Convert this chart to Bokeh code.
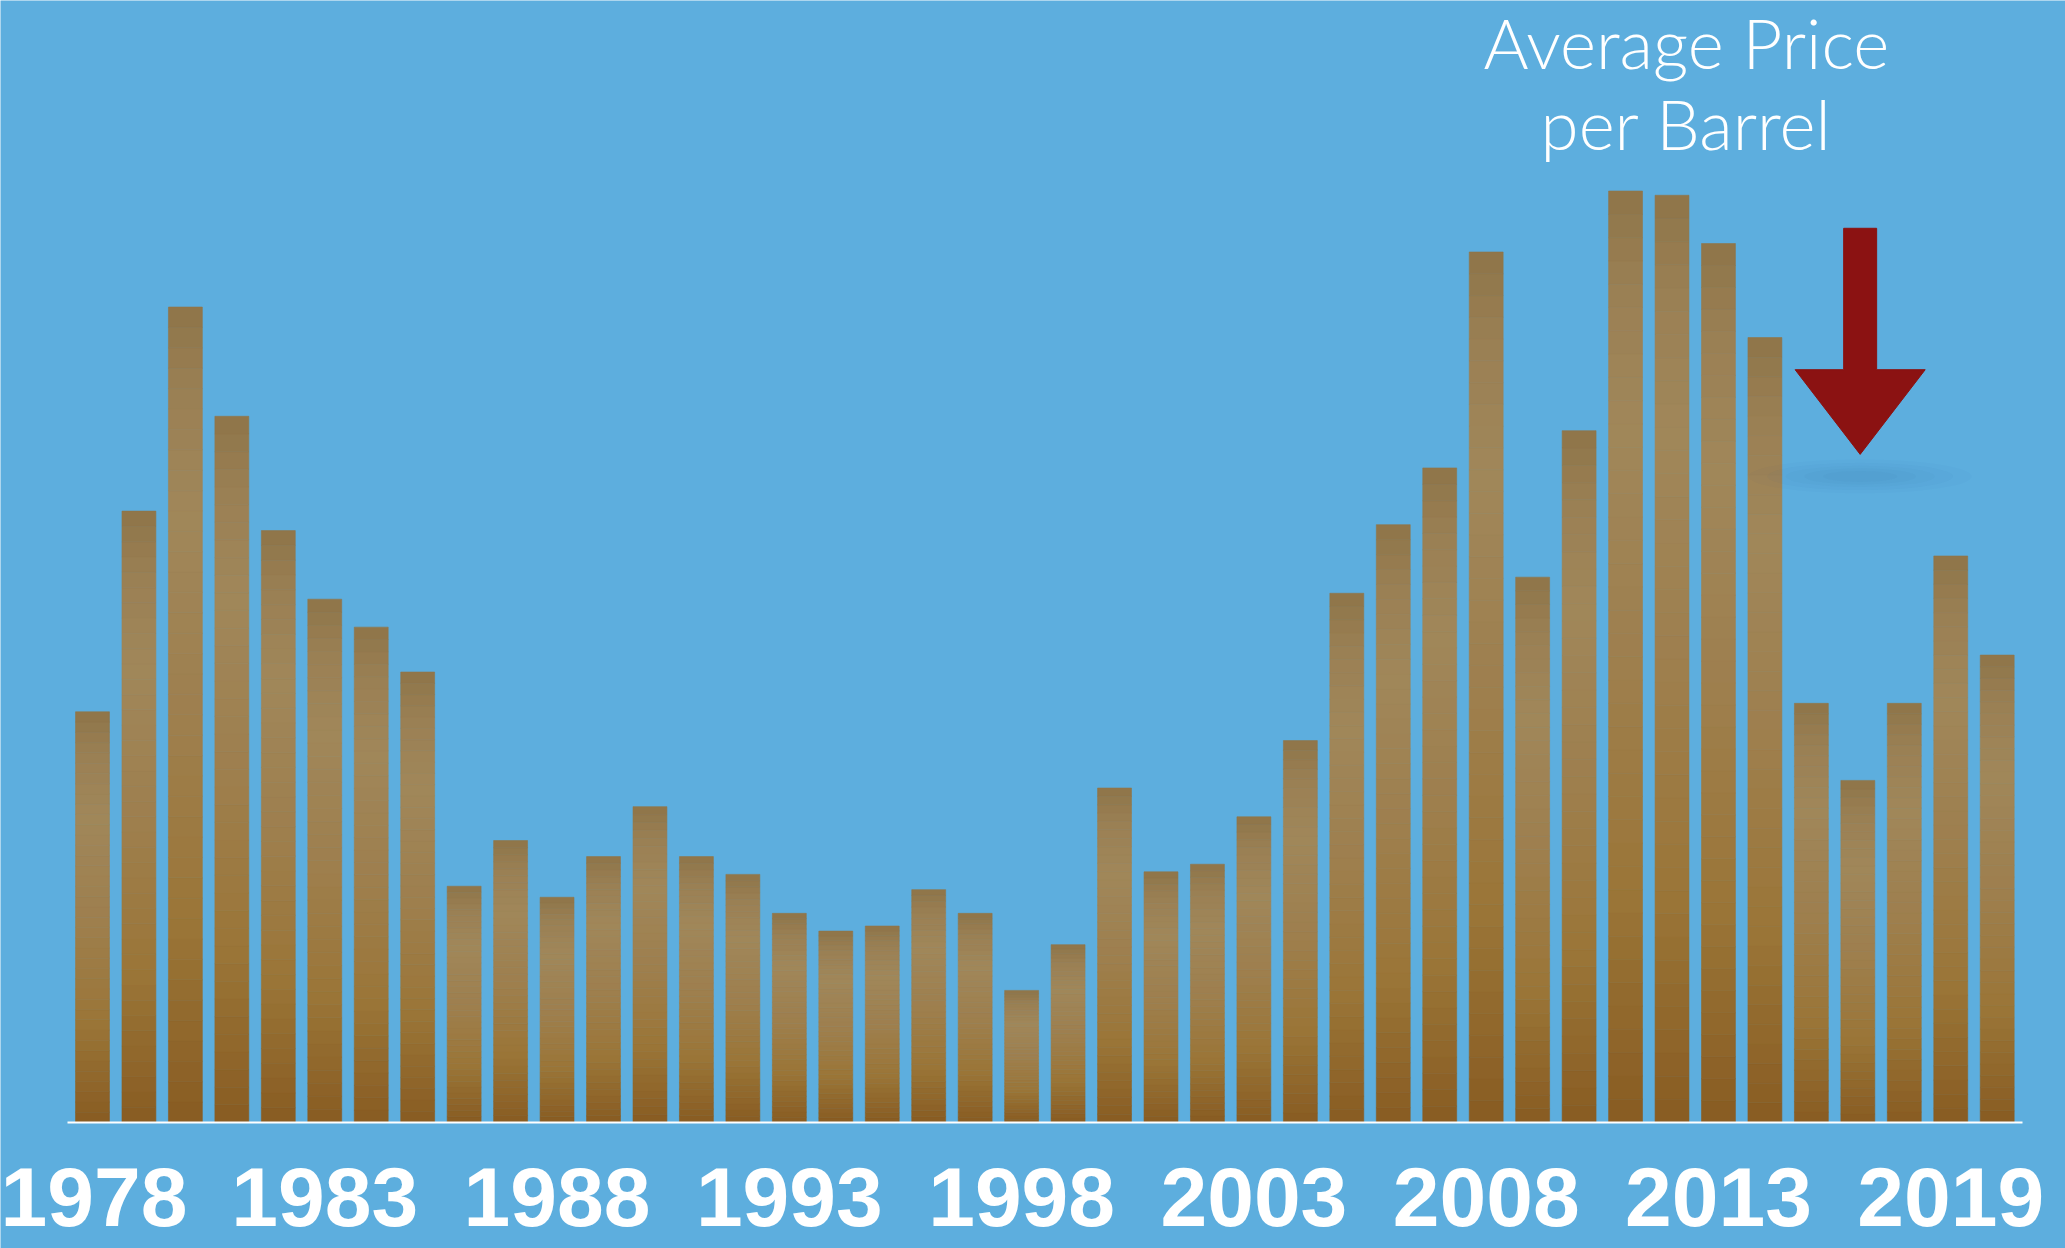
import numpy as np
from bokeh.plotting import figure
from bokeh.models import Range1d, FixedTicker, ColumnDataSource
from bokeh.core.properties import value
from bokeh.embed import file_html
from bokeh.resources import INLINE

# ---- data ----
years = list(range(1978, 2020))
prices = [48.5, 72.2, 96.3, 83.4, 69.9, 61.8, 58.5, 53.2, 27.9, 33.3,
          26.6, 31.4, 37.3, 31.4, 29.3, 24.7, 22.6, 23.2, 27.5, 24.7,
          15.6, 21.0, 39.5, 29.6, 30.5, 36.1, 45.1, 62.5, 70.6, 77.3,
          102.8, 64.4, 81.7, 110.0, 109.5, 103.8, 92.7, 49.5, 40.4, 49.5,
          66.9, 55.2]
tick_years = [1978, 1983, 1988, 1993, 1998, 2003, 2008, 2013, 2018]
tick_labels = ["1978", "1983", "1988", "1993", "1998", "2003", "2008", "2013", "2019"]
title_lines = ["Average Price", "per Barrel"]

BG = "#5DAEDE"

# gradient stops along each bar (fraction of bar height from bottom)
stops_f = [0.0, 0.25, 0.5, 0.75, 0.9, 1.0]
stops_c = [(136, 92, 34), (155, 118, 56), (158, 127, 78), (160, 135, 90),
           (154, 127, 83), (142, 117, 73)]


def grad_color(f):
    r = np.interp(f, stops_f, [c[0] for c in stops_c])
    g = np.interp(f, stops_f, [c[1] for c in stops_c])
    b = np.interp(f, stops_f, [c[2] for c in stops_c])
    return "#%02x%02x%02x" % (int(round(r)), int(round(g)), int(round(b)))


N = 40
seg_x, seg_b, seg_t, seg_c = [], [], [], []
for yr, v in zip(years, prices):
    for k in range(N):
        seg_x.append(yr)
        seg_b.append(v * k / N)
        seg_t.append(v * (k + 1) / N)
        seg_c.append(grad_color((k + 0.5) / N))
bars = ColumnDataSource(dict(x=seg_x, bottom=seg_b, top=seg_t, color=seg_c))

p = figure(width=2065, height=1248,
           x_range=Range1d(1976.02, 2020.47), y_range=Range1d(-14.88, 132.5),
           output_backend="svg", toolbar_location=None,
           y_axis_location=None, x_axis_location="below",
           min_border=0, min_border_left=0, min_border_right=0,
           min_border_top=0, min_border_bottom=0)
p.background_fill_color = BG
p.border_fill_color = BG
p.outline_line_color = None
p.grid.visible = False

p.vbar(x="x", width=0.73, bottom="bottom", top="top", source=bars,
       fill_color="color", line_color="color", line_width=0.6)

ax = p.xaxis[0]
ax.fixed_location = 0
ax.bounds = (1977.46, 2019.54)
ax.ticker = FixedTicker(ticks=tick_years)
ax.major_label_overrides = {t: l for t, l in zip(tick_years, tick_labels)}
ax.axis_line_color = "white"
ax.axis_line_width = 2
ax.major_tick_line_color = None
ax.minor_tick_line_color = None
ax.major_tick_out = 0
ax.major_tick_in = 0
ax.major_label_standoff = 46
ax.major_label_text_color = "white"
ax.major_label_text_font = "Liberation Sans"
ax.major_label_text_font_style = "bold"
ax.major_label_text_font_size = "84px"

# title
p.text(x=[2012.31, 2012.31], y=[127.5, 118.0], text=title_lines,
       text_align="center", text_baseline="alphabetic", text_color="white",
       text_font=value("Lato Light"), text_font_size="69px")

# arrow shadow (soft)
ax_c = 2016.05
for w, h, a in [(4.8, 4.0, 0.025), (4.0, 3.2, 0.03), (3.2, 2.5, 0.035),
                (2.4, 1.9, 0.04), (1.6, 1.3, 0.045)]:
    p.ellipse(x=[ax_c], y=[76.3], width=w, height=h, fill_color="#2C6A98",
              fill_alpha=a, line_color=None)

# arrow
sw, hw = 0.355, 1.40
p.patch(x=[ax_c - sw, ax_c + sw, ax_c + sw, ax_c + hw, ax_c, ax_c - hw, ax_c - sw],
        y=[105.6, 105.6, 88.9, 88.9, 78.9, 88.9, 88.9],
        fill_color="#8B1212", line_color="#8B1212", line_width=1)

open("out.html", "w").write(file_html(p, INLINE))
